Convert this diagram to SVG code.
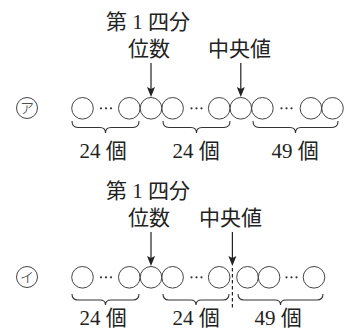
<svg xmlns="http://www.w3.org/2000/svg" width="347" height="332" viewBox="0 0 347 332">
<defs>
<path id="head" d="M-4,-10 L0,0 L4,-10 L0,-8 Z" fill="#222"/>
<style>
.t{font-family:"Liberation Serif","Noto Sans CJK JP",serif;font-size:21px;fill:#222}
.lbl{font-family:"Liberation Serif","Noto Sans CJK JP",serif;font-size:21px;fill:#222;text-anchor:middle}
.c{fill:none;stroke:#444;stroke-width:1}
.dot{fill:#333}
.br{fill:none;stroke:#333;stroke-width:1.1}
.ar{stroke:#222;stroke-width:1.2;fill:none}
.mk{font-family:"Noto Sans CJK JP",sans-serif;font-size:14px;font-weight:300;fill:#222;text-anchor:middle}
</style>
</defs>

<!-- Top diagram (ア) -->
<g id="top-labels">
<text class="t" x="106" y="29">第 1 四分</text>
<text class="t" x="128" y="56">位数</text>
<text class="t" x="208" y="56">中央値</text>
</g>
<g id="top-marker">
<circle class="c" cx="27" cy="108" r="10.5"/>
<text class="mk" x="27" y="113">ア</text>
</g>
<g id="top-circles">
<circle class="c" cx="82.5" cy="108.3" r="10.8"/>
<circle class="dot" cx="101" cy="108.3" r="1.1"/><circle class="dot" cx="106" cy="108.3" r="1.1"/><circle class="dot" cx="111" cy="108.3" r="1.1"/>
<circle class="c" cx="129.3" cy="108.3" r="10.8"/>
<circle class="c" cx="151" cy="108.3" r="10.8"/>
<circle class="c" cx="172.6" cy="108.3" r="10.8"/>
<circle class="dot" cx="191.5" cy="108.3" r="1.1"/><circle class="dot" cx="196.5" cy="108.3" r="1.1"/><circle class="dot" cx="201.5" cy="108.3" r="1.1"/>
<circle class="c" cx="219.2" cy="108.3" r="10.8"/>
<circle class="c" cx="240.8" cy="108.3" r="10.8"/>
<circle class="c" cx="262.4" cy="108.3" r="10.8"/>
<circle class="dot" cx="281.5" cy="108.3" r="1.1"/><circle class="dot" cx="286.5" cy="108.3" r="1.1"/><circle class="dot" cx="291.5" cy="108.3" r="1.1"/>
<circle class="c" cx="310.9" cy="108.3" r="10.8"/>
<circle class="c" cx="332.5" cy="108.3" r="10.8"/>
</g>
<g id="top-braces">
<path class="br" d="M72,121 Q72,127.5 78,127.5 L100,127.5 Q105.5,127.5 105.5,133 Q105.5,127.5 111,127.5 L133,127.5 Q139,127.5 139,121"/>
<path class="br" d="M163,121 Q163,127.5 169,127.5 L191,127.5 Q196.5,127.5 196.5,133 Q196.5,127.5 202,127.5 L224,127.5 Q230,127.5 230,121"/>
<path class="br" d="M253,121 Q253,127.5 259,127.5 L290,127.5 Q295.5,127.5 295.5,133 Q295.5,127.5 301,127.5 L332,127.5 Q338,127.5 338,121"/>
</g>
<g id="top-counts">
<text class="lbl" x="103" y="158">24 個</text>
<text class="lbl" x="196" y="158">24 個</text>
<text class="lbl" x="295" y="158">49 個</text>
</g>

<!-- Bottom diagram (イ) -->
<g id="bottom-labels">
<text class="t" x="106" y="198">第 1 四分</text>
<text class="t" x="128" y="225">位数</text>
<text class="t" x="199" y="225">中央値</text>
</g>
<g id="bottom-marker">
<circle class="c" cx="27" cy="277" r="10.5"/>
<text class="mk" x="27" y="282">イ</text>
</g>
<g id="bottom-circles">
<circle class="c" cx="82.5" cy="277.3" r="10.8"/>
<circle class="dot" cx="101" cy="277.3" r="1.1"/><circle class="dot" cx="106" cy="277.3" r="1.1"/><circle class="dot" cx="111" cy="277.3" r="1.1"/>
<circle class="c" cx="129.3" cy="277.3" r="10.8"/>
<circle class="c" cx="151" cy="277.3" r="10.8"/>
<circle class="c" cx="172.6" cy="277.3" r="10.8"/>
<circle class="dot" cx="191.5" cy="277.3" r="1.1"/><circle class="dot" cx="196.5" cy="277.3" r="1.1"/><circle class="dot" cx="201.5" cy="277.3" r="1.1"/>
<circle class="c" cx="219.2" cy="277.3" r="10.8"/>
<circle class="c" cx="247.5" cy="277.3" r="10.8"/>
<circle class="c" cx="269.1" cy="277.3" r="10.8"/>
<circle class="dot" cx="286.5" cy="277.3" r="1.1"/><circle class="dot" cx="291.5" cy="277.3" r="1.1"/><circle class="dot" cx="296.5" cy="277.3" r="1.1"/>
<circle class="c" cx="314" cy="277.3" r="10.8"/>
</g>
<g id="bottom-braces">
<path class="br" d="M72,294 Q72,300 78,300 L100,300 Q105.5,300 105.5,305 Q105.5,300 111,300 L133,300 Q139,300 139,294"/>
<path class="br" d="M163,294 Q163,300 169,300 L190.5,300 Q196,300 196,305 Q196,300 201.5,300 L223,300 Q229,300 229,294"/>
<path class="br" d="M238,294 Q238,300 244,300 L275,300 Q280.5,300 280.5,305 Q280.5,300 286,300 L317,300 Q323,300 323,294"/>
</g>
<g id="bottom-counts">
<text class="lbl" x="103" y="325">24 個</text>
<text class="lbl" x="196" y="325">24 個</text>
<text class="lbl" x="278" y="325">49 個</text>
</g>

<g id="connectors">
<line class="ar" x1="151" y1="63" x2="151" y2="92"/>
<use href="#head" x="151" y="97"/>
<line class="ar" x1="240.8" y1="63" x2="240.8" y2="92"/>
<use href="#head" x="240.8" y="97"/>
<line class="ar" x1="151" y1="232" x2="151" y2="261"/>
<use href="#head" x="151" y="266"/>
<line class="ar" x1="232.4" y1="232" x2="232.4" y2="261"/>
<use href="#head" x="232.4" y="266"/>
<line class="ar" x1="232.4" y1="268" x2="232.4" y2="310" stroke-dasharray="3.5,2.5"/>
</g>
</svg>
